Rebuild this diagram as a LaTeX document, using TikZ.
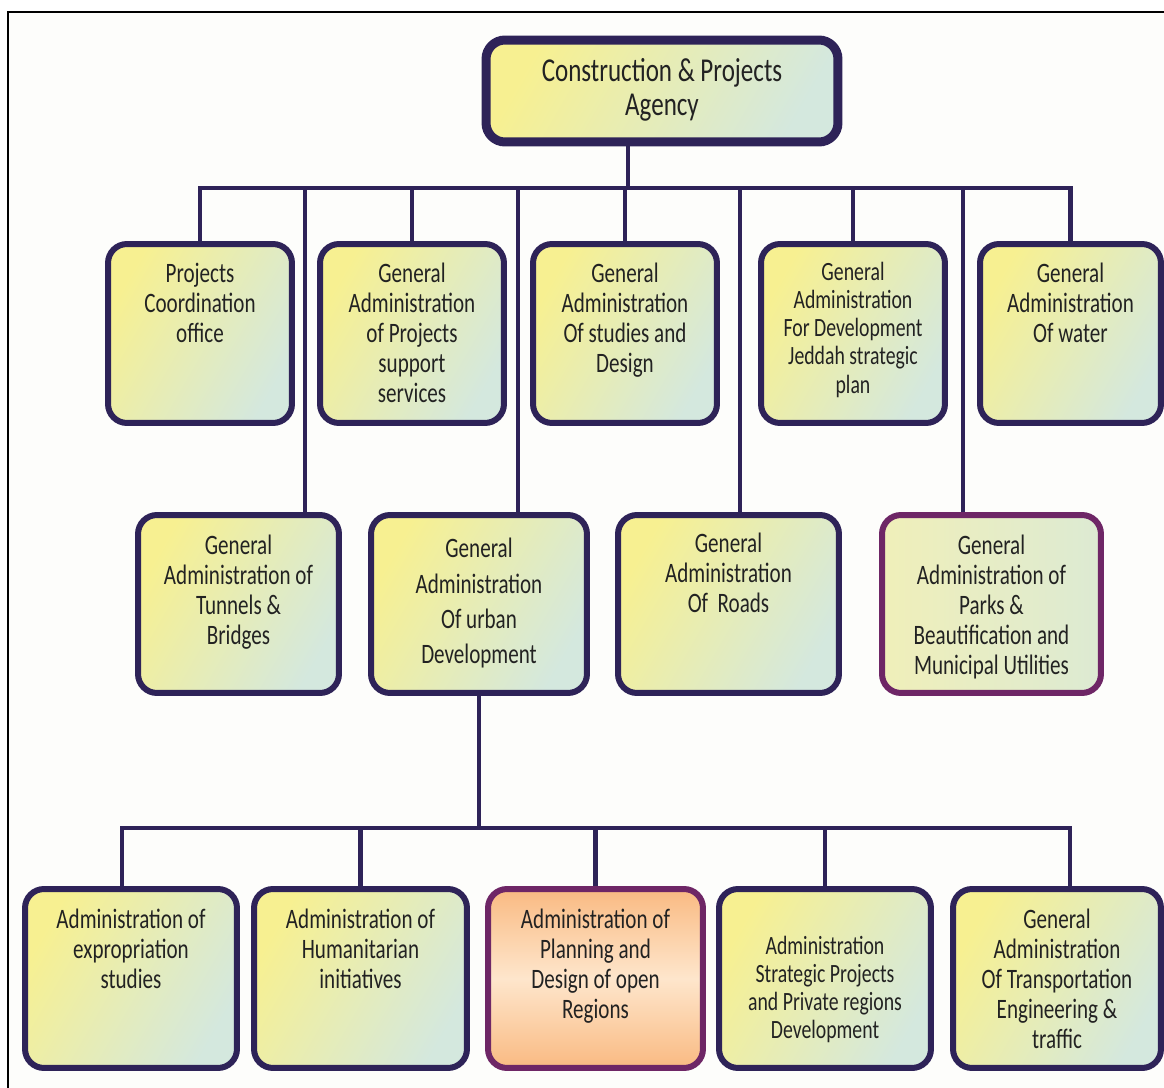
\documentclass[tikz,border=0pt]{standalone}
\usepackage{fontspec}
\setmainfont[FakeStretch=0.75]{Carlito}
\usetikzlibrary{backgrounds}

\definecolor{edge}{RGB}{46,35,88}
\definecolor{plum}{RGB}{110,38,102}
\definecolor{yfill}{RGB}{247,240,145}
\definecolor{mfill}{RGB}{212,232,222}
\definecolor{parkfill}{RGB}{240,239,185}
\definecolor{peach}{RGB}{249,186,130}
\definecolor{peachlt}{RGB}{254,230,204}
\definecolor{ink}{RGB}{34,34,34}
\definecolor{paper}{RGB}{253,253,251}

\tikzset{
  unit/.style={draw=edge, line width=0.12cm, rounded corners=0.38cm,
    left color=yfill, right color=mfill, shading angle=60},
  txt/.style={align=center, inner sep=0pt, text=ink,
    font=\fontsize{16}{17}\selectfont},
  link/.style={draw=edge, line width=0.09cm},
}

\begin{document}
\begin{tikzpicture}[x=0.02cm, y=-0.02cm]
\useasboundingbox (0,0) rectangle (1164,1088);

% Agency
\node[unit, line width=0.18cm, minimum width=7.04cm, minimum height=2.04cm] (cpa) at (662,91) {};
\node[txt, font=\fontsize{19}{19}\selectfont, below=0.46cm] (cpa-t) at (cpa.north) {Construction \& Projects\\Agency};

% first row
\node[unit, minimum width=3.68cm, minimum height=3.58cm] (pco) at (200,333.5) {};
\node[txt, below=0.44cm] (pco-t) at (pco.north) {Projects\\Coordination\\office};
\node[unit, minimum width=3.68cm, minimum height=3.58cm] (gaps) at (412,333.5) {};
\node[txt, below=0.44cm] (gaps-t) at (gaps.north) {General\\Administration\\of Projects\\support\\services};
\node[unit, minimum width=3.68cm, minimum height=3.58cm] (gasd) at (625,333.5) {};
\node[txt, below=0.44cm] (gasd-t) at (gasd.north) {General\\Administration\\Of studies and\\Design};
\node[unit, minimum width=3.68cm, minimum height=3.58cm] (gajsp) at (853,333.5) {};
\node[txt, font=\fontsize{15}{16}\selectfont, below=0.42cm] (gajsp-t) at (gajsp.north) {General\\Administration\\For Development\\Jeddah strategic\\plan};
\node[unit, minimum width=3.62cm, minimum height=3.58cm] (gaw) at (1070.5,333.5) {};
\node[txt, below=0.44cm] (gaw-t) at (gaw.north) {General\\Administration\\Of water};

% second row
\node[unit, minimum width=4.02cm, minimum height=3.56cm] (tunnels) at (238.5,604) {};
\node[txt, below=0.46cm] (tunnels-t) at (tunnels.north) {General\\Administration of\\Tunnels \&\\Bridges};
\node[unit, minimum width=4.32cm, minimum height=3.56cm] (urban) at (479,604) {};
\node[txt, font=\fontsize{16}{20}\selectfont, below=0.52cm] (urban-t) at (urban.north) {General\\Administration\\Of urban\\Development};
\node[unit, minimum width=4.42cm, minimum height=3.56cm] (roads) at (728.5,604) {};
\node[txt, below=0.42cm] (roads-t) at (roads.north) {General\\Administration\\Of~~Roads};
\node[unit, draw=plum, left color=parkfill, right color=mfill!70!parkfill, minimum width=4.38cm, minimum height=3.56cm] (parks) at (991.5,604) {};
\node[txt, below=0.46cm] (parks-t) at (parks.north) {General\\Administration of\\Parks \&\\Beautification and\\Municipal Utilities};

% third row
\node[unit, minimum width=4.24cm, minimum height=3.58cm] (exprop) at (131,978.5) {};
\node[txt, below=0.46cm] (exprop-t) at (exprop.north) {Administration of\\expropriation\\studies};
\node[unit, minimum width=4.26cm, minimum height=3.58cm] (human) at (360.5,978.5) {};
\node[txt, below=0.46cm] (human-t) at (human.north) {Administration of\\Humanitarian\\initiatives};
\node[unit, draw=plum, top color=peach, bottom color=peach, middle color=peachlt, shading angle=0, minimum width=4.3cm, minimum height=3.58cm] (planning) at (595.5,978.5) {};
\node[txt, below=0.46cm] (planning-t) at (planning.north) {Administration of\\Planning and\\Design of open\\Regions};
\node[unit, minimum width=4.24cm, minimum height=3.58cm] (strategic) at (825,978.5) {};
\node[txt, font=\fontsize{15}{16}\selectfont, below=1.0cm] (strategic-t) at (strategic.north) {Administration\\Strategic Projects\\and Private regions\\Development};
\node[unit, minimum width=4.16cm, minimum height=3.58cm] (transport) at (1057,978.5) {};
\node[txt, below=0.46cm] (transport-t) at (transport.north) {General\\Administration\\Of Transportation\\Engineering \&\\traffic};

\begin{scope}[on background layer]
% page frame
\fill[paper] (8,12) rectangle (1164,1088);
\draw[black, line width=0.04cm] (8,1088) -- (8,12) -- (1164,12);
% upper bus
\coordinate (bus1) at (628,188);
\coordinate (d1) at (305,188);
\coordinate (d2) at (518,188);
\coordinate (d3) at (740,188);
\coordinate (d4) at (963,188);
\draw[link] (bus1) -- (bus1 |- cpa.south);
\draw[link] (pco.north) |- (bus1) -| (gaw.north);
\draw[link] (gaps.north) -- (gaps.north |- bus1);
\draw[link] (gasd.north) -- (gasd.north |- bus1);
\draw[link] (gajsp.north) -- (gajsp.north |- bus1);
\draw[link] (d1) -- (d1 |- tunnels.north);
\draw[link] (d2) -- (d2 |- urban.north);
\draw[link] (d3) -- (d3 |- roads.north);
\draw[link] (d4) -- (d4 |- parks.north);
% lower bus
\coordinate (bus2) at (479,828);
\coordinate (b2w) at (122,828);
\coordinate (b2e) at (1070,828);
\draw[link] (urban.south) -- (urban.south |- bus2);
\draw[link] (b2w |- exprop.north) -- (b2w) -- (b2e) -- (b2e |- transport.north);
\draw[link] (human.north) -- (human.north |- bus2);
\draw[link] (planning.north) -- (planning.north |- bus2);
\draw[link] (strategic.north) -- (strategic.north |- bus2);
\end{scope}
\end{tikzpicture}
\end{document}
